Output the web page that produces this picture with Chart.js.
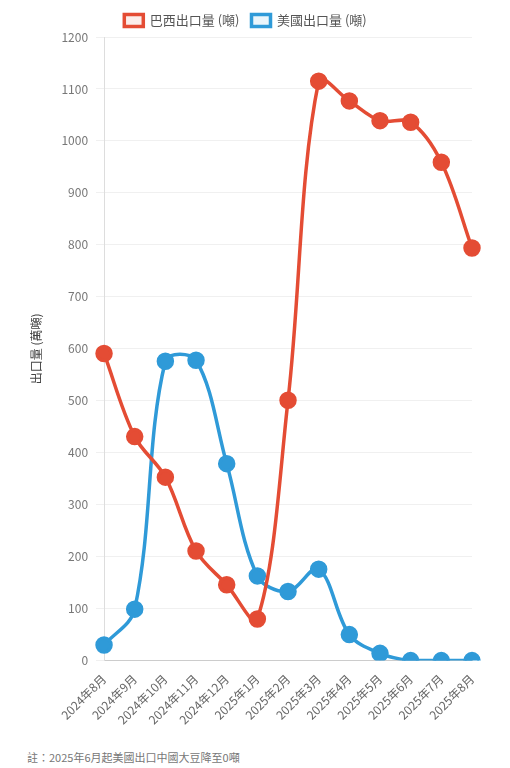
<!DOCTYPE html>
<html>
<head>
<meta charset="utf-8">
<script src="https://cdn.jsdelivr.net/npm/chart.js@4.4.1/dist/chart.umd.min.js"></script>
<style>
  body { margin: 0; background: #fff; font-family: "Noto Sans CJK TC", "Noto Sans", sans-serif; }
  #wrap { position: relative; width: 500px; height: 730px; }
  #note { position: absolute; left: 27px; top: 749px; font-size: 11px; color: #777; }
</style>
</head>
<body>
<div id="wrap"><canvas id="chart"></canvas></div>
<div id="note">註：2025年6月起美國出口中國大豆降至0噸</div>
<script>
const meses = ['2024年8月', '2024年9月', '2024年10月', '2024年11月', '2024年12月', '2025年1月',
    '2025年2月', '2025年3月', '2025年4月', '2025年5月', '2025年6月', '2025年7月', '2025年8月'];
const brasil = [591, 431, 353, 211, 146, 80, 501, 1115, 1077, 1039, 1036, 959, 794];
const eeuu = [30, 99, 576, 578, 379, 163, 133, 176, 50, 14, 0, 0, 0];
const ticksY = [0, 100, 200, 300, 400, 500, 600, 700, 800, 900, 1000, 1100, 1200];

const fontCJK = '"Noto Sans CJK TC", "Noto Sans", sans-serif';

new Chart(document.getElementById('chart').getContext('2d'), {
    type: 'line',
    data: {
        labels: meses,
        datasets: [
            { label: '巴西出口量 (噸)', data: brasil, borderColor: '#e44c34', backgroundColor: 'rgba(228,76,52,0.1)',
              pointBackgroundColor: '#e44c34', borderWidth: 3.5, pointRadius: 7, tension: 0.35 },
            { label: '美國出口量 (噸)', data: eeuu, borderColor: '#2f9ad8', backgroundColor: 'rgba(47,154,216,0.1)',
              pointBackgroundColor: '#2f9ad8', borderWidth: 3.5, pointRadius: 7, tension: 0.35 }
        ]
    },
    options: {
        responsive: true,
        maintainAspectRatio: false,
        animation: false,
        layout: { padding: { left: 19, right: 28, top: 2 } },
        plugins: {
            legend: {
                labels: { boxWidth: 19, boxHeight: 12, padding: 12, font: { family: fontCJK, size: 13 }, color: '#555' }
            }
        },
        scales: {
            x: {
                grid: { display: false },
                border: { color: '#ccc' },
                ticks: { maxRotation: 45, minRotation: 45, color: '#666', font: { family: fontCJK, size: 12 } }
            },
            y: {
                min: 0, max: 1200,
                afterBuildTicks: axis => { axis.ticks = ticksY.map(v => ({ value: v })); },
                grid: { color: '#f0f0f0' },
                border: { color: '#ddd' },
                title: { display: true, text: '出口量 (萬噸)', color: '#444', padding: 10, font: { family: fontCJK, size: 12 } },
                ticks: { color: '#777', padding: 8, font: { family: fontCJK, size: 12 }, callback: v => String(v) }
            }
        }
    }
});
</script>
</body>
</html>
